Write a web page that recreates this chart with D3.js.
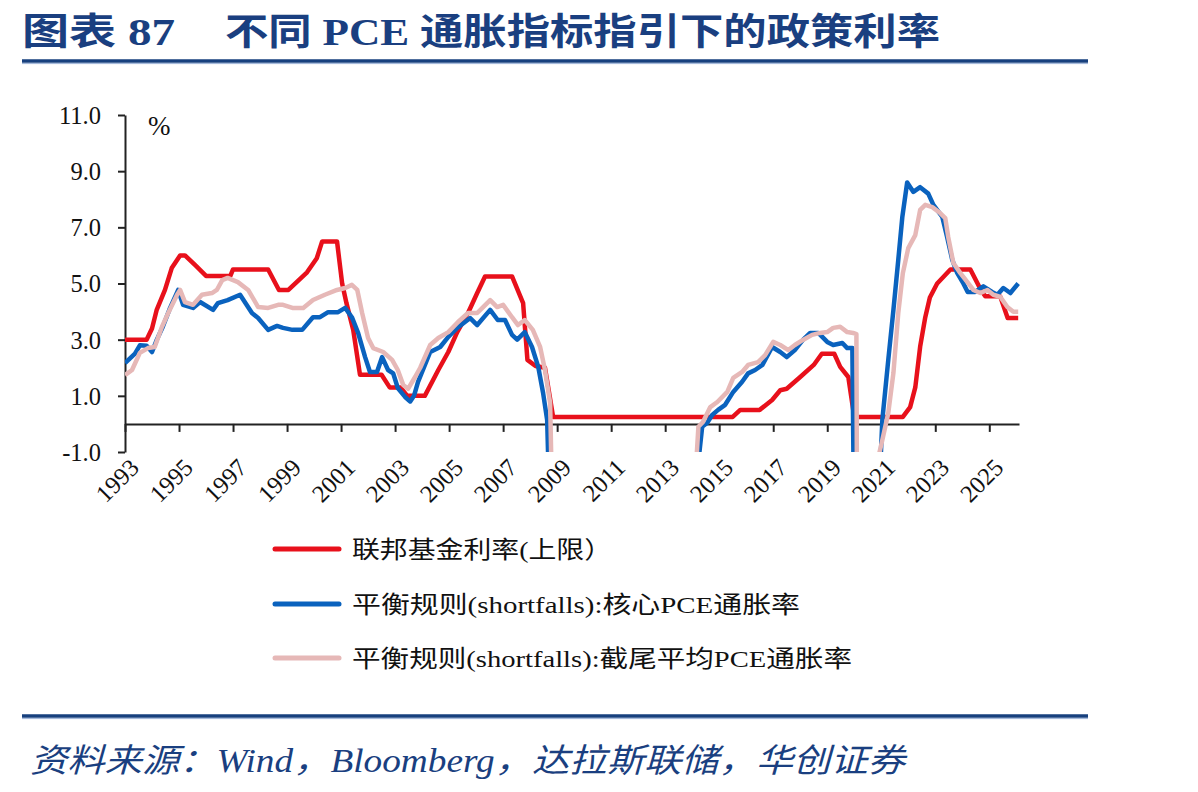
<!DOCTYPE html>
<html><head><meta charset="utf-8">
<script src="https://cdn.jsdelivr.net/npm/d3@7"></script>
<style>
html,body{margin:0;padding:0;background:#fff;}
svg{display:block;}
</style></head>
<body>
<svg id="c" width="1198" height="792"></svg>
<script>
// ---------- data ----------
const titleLead = "图表 87";
const titleMain = "不同 PCE 通胀指标指引下的政策利率";
const sourceText = "资料来源：Wind，Bloomberg，达拉斯联储，华创证券";
const unitLabel = "%";
const seriesNames = ["联邦基金利率(上限）", "平衡规则(shortfalls):核心PCE通胀率", "平衡规则(shortfalls):截尾平均PCE通胀率"];
const xTickYears = [1993,1995,1997,1999,2001,2003,2005,2007,2009,2011,2013,2015,2017,2019,2021,2023,2025];
const yTickValues = [-1,1,3,5,7,9,11];

const fedFunds = [
[1993.0,3.0],[1993.8,3.0],[1994.0,3.4],[1994.17,4.05],[1994.48,4.77],[1994.73,5.55],[1995.04,6.0],[1995.22,6.0],
[1995.6,5.65],[1996.0,5.27],[1996.9,5.27],[1997.0,5.5],[1998.3,5.5],[1998.7,4.77],[1999.05,4.77],[1999.74,5.4],
[2000.1,5.9],[2000.3,6.5],[2000.85,6.5],[2001.04,5.0],[2001.2,4.3],[2001.45,3.35],[2001.7,1.75],[2002.5,1.75],
[2002.8,1.3],[2003.2,1.3],[2003.45,1.0],[2004.1,1.0],[2004.6,1.92],[2004.97,2.56],[2005.3,3.27],[2005.7,3.95],
[2006.04,4.66],[2006.33,5.25],[2007.33,5.25],[2007.74,4.3],[2007.9,2.28],[2008.2,2.06],[2008.55,2.0],[2008.85,0.25],
[2015.5,0.25],[2015.78,0.5],[2016.5,0.5],[2016.96,0.85],[2017.26,1.2],[2017.5,1.25],[2018.0,1.67],[2018.5,2.1],
[2018.8,2.5],[2019.26,2.5],[2019.48,2.03],[2019.78,1.67],[2020.0,0.25],[2021.8,0.25],[2022.07,0.6],[2022.26,1.3],
[2022.44,2.75],[2022.63,3.8],[2022.8,4.5],[2023.07,5.0],[2023.56,5.5],[2024.3,5.5],[2024.7,4.75],[2024.85,4.55],
[2025.4,4.55],[2025.68,3.77],[2026.07,3.77]
];

const coreRule = [
[1993.0,2.17],[1993.37,2.5],[1993.55,2.8],[1993.8,2.78],[1994.0,2.56],[1994.18,3.0],[1994.4,3.46],[1994.67,4.13],
[1994.97,4.77],[1995.15,4.24],[1995.52,4.13],[1995.78,4.34],[1996.26,4.06],[1996.44,4.3],[1996.8,4.41],[1997.26,4.6],
[1997.7,3.95],[1997.93,3.77],[1998.3,3.35],[1998.63,3.49],[1998.85,3.42],[1999.2,3.35],[1999.56,3.35],[1999.96,3.8],
[2000.22,3.8],[2000.52,3.98],[2000.89,3.98],[2001.15,4.13],[2001.4,3.8],[2001.63,3.24],[2001.89,2.38],[2002.07,1.85],
[2002.33,1.85],[2002.52,2.38],[2002.74,1.92],[2002.93,1.8],[2003.1,1.28],[2003.37,0.96],[2003.56,0.8],[2003.7,1.0],
[2003.85,1.5],[2004.3,2.56],[2004.67,2.74],[2004.97,3.1],[2005.3,3.42],[2005.78,3.77],[2006.04,3.52],[2006.52,4.06],
[2006.8,3.7],[2007.07,3.7],[2007.33,3.17],[2007.52,3.0],[2007.8,3.27],[2008.07,2.74],[2008.3,2.03],[2008.48,1.1],
[2008.63,0.14],[2008.72,-3],[2011.0,null],[2014.1,-2.5],[2014.37,-0.1],[2014.55,0.03],[2014.74,0.32],[2014.96,0.5],
[2015.22,0.68],[2015.52,1.14],[2015.85,1.5],[2016.07,1.8],[2016.33,1.92],[2016.6,2.1],[2016.96,2.74],[2017.26,2.56],
[2017.5,2.38],[2017.8,2.63],[2018.1,2.99],[2018.37,3.24],[2018.67,3.24],[2019.0,2.92],[2019.22,2.81],[2019.56,2.88],
[2019.74,2.7],[2019.93,2.7],[2020.04,-8],[2020.5,null],[2020.9,-3],[2021.04,0.14],[2021.26,2.28],[2021.45,4.06],
[2021.63,5.84],[2021.78,7.37],[2021.96,8.6],[2022.19,8.26],[2022.44,8.43],[2022.74,8.2],[2022.93,7.8],[2023.26,7.37],
[2023.44,6.65],[2023.63,5.84],[2023.8,5.4],[2024.04,5.0],[2024.2,4.7],[2024.48,4.7],[2024.78,4.9],[2025.1,4.7],
[2025.3,4.6],[2025.52,4.84],[2025.78,4.66],[2026.07,5.0]
];

const trimmedRule = [
[1993.0,1.74],[1993.26,1.92],[1993.55,2.53],[1993.85,2.7],[1994.1,2.74],[1994.37,3.46],[1994.6,3.95],[1994.93,4.6],
[1995.04,4.77],[1995.22,4.34],[1995.52,4.24],[1995.85,4.6],[1996.22,4.66],[1996.4,4.77],[1996.6,5.12],[1996.8,5.2],
[1997.18,5.05],[1997.56,4.77],[1997.93,4.16],[1998.3,4.13],[1998.67,4.24],[1998.85,4.24],[1999.2,4.13],[1999.6,4.13],
[1999.96,4.41],[2000.4,4.6],[2000.85,4.77],[2001.15,4.84],[2001.4,4.95],[2001.6,4.77],[2001.78,3.95],[2002.0,3.06],
[2002.19,2.7],[2002.56,2.56],[2002.89,2.28],[2003.1,1.92],[2003.3,1.39],[2003.48,1.25],[2003.74,1.67],[2003.93,2.0],
[2004.3,2.81],[2004.6,3.06],[2004.97,3.27],[2005.33,3.63],[2005.7,3.95],[2006.04,3.95],[2006.26,4.16],[2006.52,4.41],
[2006.78,4.16],[2007.0,4.24],[2007.33,3.8],[2007.55,3.52],[2007.8,3.7],[2008.1,3.35],[2008.37,2.74],[2008.55,1.92],
[2008.74,0.75],[2008.82,-3],[2011.0,null],[2014.05,-3],[2014.23,-0.1],[2014.4,0.07],[2014.67,0.6],[2014.93,0.78],
[2015.3,1.14],[2015.52,1.64],[2015.85,1.85],[2016.07,2.1],[2016.44,2.2],[2016.7,2.45],[2017.0,2.92],[2017.26,2.81],
[2017.56,2.63],[2017.8,2.81],[2018.1,2.99],[2018.44,3.17],[2018.74,3.24],[2019.0,3.27],[2019.22,3.42],[2019.48,3.46],
[2019.74,3.27],[2019.96,3.24],[2020.08,3.2],[2020.12,-8],[2020.4,null],[2020.7,-2.0],[2021.04,-0.57],[2021.26,0.39],
[2021.45,1.81],[2021.63,3.95],[2021.8,5.37],[2022.0,6.26],[2022.26,6.72],[2022.44,7.62],[2022.63,7.8],[2022.89,7.72],
[2023.19,7.5],[2023.37,7.33],[2023.48,6.65],[2023.67,5.73],[2023.93,5.37],[2024.19,5.05],[2024.41,4.77],[2024.67,4.66],
[2024.93,4.77],[2025.15,4.6],[2025.41,4.52],[2025.67,4.16],[2025.89,3.99],[2026.07,3.99]
];

const seriesColors = ["#E8101B", "#0A62BE", "#E6B8B7"];

// ---------- drawing ----------
const svg = d3.select("#c");
const navy = "#1A3F80";
const serif = "'Liberation Serif','Times New Roman','Noto Sans CJK SC',serif";

// title
svg.append("text").attr("x", 22).attr("y", 45)
  .attr("font-family", serif).attr("font-weight", "bold").attr("font-size", 37)
  .attr("fill", navy).attr("textLength", 153).attr("lengthAdjust", "spacingAndGlyphs")
  .text(titleLead);
svg.append("text").attr("x", 225).attr("y", 45)
  .attr("font-family", serif).attr("font-weight", "bold").attr("font-size", 37)
  .attr("fill", navy).attr("textLength", 715).attr("lengthAdjust", "spacingAndGlyphs")
  .text(titleMain);

// rules
function rule(y){
  svg.append("line").attr("x1", 22).attr("x2", 1088).attr("y1", y).attr("y2", y)
    .attr("stroke", "#17407E").attr("stroke-width", 3.5);
  svg.append("line").attr("x1", 22).attr("x2", 1088).attr("y1", y + 2.6).attr("y2", y + 2.6)
    .attr("stroke", "#9DB3D8").attr("stroke-width", 1);
}
rule(61);
rule(716);

// source
svg.append("text").attr("x", 30).attr("y", 772)
  .attr("font-family", serif).attr("font-style", "italic").attr("font-size", 33)
  .attr("fill", navy).attr("textLength", 875).attr("lengthAdjust", "spacingAndGlyphs")
  .text(sourceText);

// scales
const x = d3.scaleLinear().domain([1993, 2026.1]).range([125, 1019]);
const y = d3.scaleLinear().domain([-1, 11]).range([452, 115]);

// clip
svg.append("defs").append("clipPath").attr("id", "plot")
  .append("rect").attr("x", 125).attr("y", 100).attr("width", 900).attr("height", 352);

// y axis
const yAxis = svg.append("g").attr("transform", `translate(${x(1993)},0)`)
  .call(d3.axisLeft(y).tickValues(yTickValues).tickFormat(d => d.toFixed(1)).tickSize(7).tickSizeOuter(0));
yAxis.select(".domain").attr("stroke", "#222").attr("stroke-width", 2);
yAxis.selectAll(".tick line").attr("stroke", "#222").attr("stroke-width", 2);
yAxis.selectAll(".tick text").attr("font-family", serif).attr("font-size", 24.5).attr("fill", "#111")
  .attr("x", -24).attr("dy", "0.34em");

// x axis at y = 0
const xAxis = svg.append("g").attr("transform", `translate(0,${y(0)})`)
  .call(d3.axisBottom(x).tickValues(xTickYears).tickFormat(d => String(d)).tickSize(8).tickSizeOuter(0));
xAxis.select(".domain").attr("stroke", "#222").attr("stroke-width", 2);
xAxis.selectAll(".tick line").attr("stroke", "#222").attr("stroke-width", 2);
xAxis.selectAll(".tick text").attr("font-family", serif).attr("font-size", 24.5).attr("fill", "#111")
  .attr("text-anchor", "end").attr("y", 0).attr("dy", 0)
  .attr("transform", `translate(15,${y(-1) - y(0) + 17}) rotate(-45)`);

// unit
svg.append("text").attr("x", 148).attr("y", 135).attr("font-family", serif)
  .attr("font-size", 27).attr("fill", "#111").text(unitLabel);

// lines
const line = d3.line().defined(d => d[1] !== null).x(d => x(d[0])).y(d => y(d[1]));
const gLines = svg.append("g").attr("clip-path", "url(#plot)");
[fedFunds, coreRule, trimmedRule].forEach((s, i) => {
  gLines.append("path").datum(s).attr("d", line).attr("fill", "none")
    .attr("stroke", seriesColors[i]).attr("stroke-width", 4.5)
    .attr("stroke-linejoin", "round").attr("stroke-linecap", "butt");
});

// legend
const legendY = [549, 604, 658];
const legendLen = [260, 448, 500];
seriesNames.forEach((n, i) => {
  svg.append("line").attr("x1", 275).attr("x2", 339).attr("y1", legendY[i]).attr("y2", legendY[i])
    .attr("stroke", seriesColors[i]).attr("stroke-width", 5).attr("stroke-linecap", "round");
  svg.append("text").attr("x", 352).attr("y", legendY[i] + 9)
    .attr("font-family", serif).attr("font-size", 24).attr("fill", "#111")
    .attr("textLength", legendLen[i]).attr("lengthAdjust", "spacingAndGlyphs")
    .text(n);
});
</script>
</body></html>
